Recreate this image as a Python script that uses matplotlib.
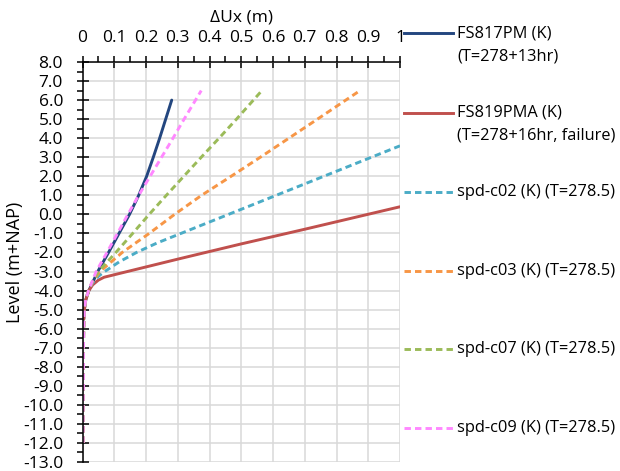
import matplotlib
matplotlib.use("Agg")
import matplotlib.pyplot as plt
from matplotlib.lines import Line2D
from matplotlib.ticker import MultipleLocator, FuncFormatter

plt.rcParams["font.family"] = ["Open Sans", "DejaVu Sans"]
plt.rcParams["axes.unicode_minus"] = False

# measured inclinometer profiles (x = horizontal displacement, level in m+NAP)
fs817_x = [0.004, 0.006, 0.010, 0.020, 0.034, 0.048, 0.082, 0.115, 0.148, 0.177, 0.202, 0.223, 0.243, 0.262, 0.281]
fs817_lvl = [-5.5, -5.0, -4.5, -4.0, -3.5, -3.0, -2.0, -1.0, 0.0, 1.0, 2.0, 3.0, 4.0, 5.0, 6.0]

fs819_x = [0.004, 0.006, 0.010, 0.020, 0.032, 0.050, 0.068, 0.300, 0.500, 0.700, 1.000]
fs819_lvl = [-5.5, -5.0, -4.5, -4.0, -3.7, -3.45, -3.3, -2.35, -1.55, -0.78, 0.4]

# calculated profiles
c02_x = [0.002, 0.002, 0.002, 0.003, 0.003, 0.003, 0.004, 0.006, 0.010, 0.019, 0.032, 0.050, 0.070, 0.115, 0.170, 0.235, 0.310, 0.460, 0.610, 0.760, 0.910, 1.000]
c02_lvl = [-12.0, -11.0, -10.0, -9.0, -8.0, -7.0, -6.0, -5.0, -4.5, -4.0, -3.6, -3.25, -3.0, -2.5, -2.0, -1.5, -1.0, 0.0, 1.0, 2.0, 3.0, 3.6]

c03_x = [0.002, 0.002, 0.002, 0.003, 0.003, 0.003, 0.004, 0.006, 0.010, 0.019, 0.033, 0.055, 0.125, 0.210, 0.290, 0.375, 0.468, 0.560, 0.650, 0.740, 0.874]
c03_lvl = [-12.0, -11.0, -10.0, -9.0, -8.0, -7.0, -6.0, -5.0, -4.5, -4.0, -3.5, -3.0, -2.0, -1.0, 0.0, 1.0, 2.0, 3.0, 4.0, 5.0, 6.5]

c07_x = [0.002, 0.002, 0.002, 0.003, 0.003, 0.003, 0.004, 0.006, 0.010, 0.019, 0.032, 0.050, 0.105, 0.158, 0.210, 0.264, 0.319, 0.374, 0.430, 0.485, 0.565]
c07_lvl = [-12.0, -11.0, -10.0, -9.0, -8.0, -7.0, -6.0, -5.0, -4.5, -4.0, -3.5, -3.0, -2.0, -1.0, 0.0, 1.0, 2.0, 3.0, 4.0, 5.0, 6.5]

c09_x = [0.002, 0.002, 0.002, 0.003, 0.003, 0.003, 0.004, 0.006, 0.010, 0.019, 0.031, 0.043, 0.077, 0.110, 0.143, 0.177, 0.213, 0.249, 0.285, 0.320, 0.374]
c09_lvl = [-12.0, -11.0, -10.0, -9.0, -8.0, -7.0, -6.0, -5.0, -4.5, -4.0, -3.5, -3.0, -2.0, -1.0, 0.0, 1.0, 2.0, 3.0, 4.0, 5.0, 6.5]

labels = [
    ["FS817PM (K)", "(T=278+13hr)"],
    ["FS819PMA (K)", "(T=278+16hr, failure)"],
    ["spd-c02 (K) (T=278.5)"],
    ["spd-c03 (K) (T=278.5)"],
    ["spd-c07 (K) (T=278.5)"],
    ["spd-c09 (K) (T=278.5)"],
]
colors = ["#23467f", "#c0504d", "#4bacc6", "#f79646", "#9bbb59", "#ff88ff"]
dashed = [False, False, True, True, True, True]
xs = [fs817_x, fs819_x, c02_x, c03_x, c07_x, c09_x]
ys = [fs817_lvl, fs819_lvl, c02_lvl, c03_lvl, c07_lvl, c09_lvl]

W, H = 620, 471
fig = plt.figure(figsize=(W / 100, H / 100), dpi=100)
ax = fig.add_axes([82.5 / W, 1 - 462 / H, 317.5 / W, 400 / H])

LW = 2.1
DASH = (2.2, 1.4)

for x, y, c, d in zip(xs, ys, colors, dashed):
    if d:
        ax.plot(x, y, color=c, lw=LW, dashes=DASH, solid_capstyle="butt")
    else:
        ax.plot(x, y, color=c, lw=LW, solid_capstyle="round")

ax.set_xlim(0, 1)
ax.set_ylim(-13, 8)

ax.xaxis.set_major_locator(MultipleLocator(0.1))
ax.xaxis.set_minor_locator(MultipleLocator(0.05))
ax.yaxis.set_major_locator(MultipleLocator(1))
ax.yaxis.set_minor_locator(MultipleLocator(0.5))
ax.xaxis.set_major_formatter(FuncFormatter(lambda v, p: f"{v:.1f}".rstrip("0").rstrip(".") if v else "0"))
ax.yaxis.set_major_formatter(FuncFormatter(lambda v, p: f"{v:.1f}"))

ax.xaxis.tick_top()
ax.tick_params(axis="x", which="major", direction="inout", length=9, width=1.1, pad=7, labelsize=12.5)
ax.tick_params(axis="x", which="minor", direction="out", length=4.5, width=1.1)
ax.tick_params(axis="y", which="major", direction="inout", length=9, width=1.1, pad=9.5, labelsize=12.5)
ax.tick_params(axis="y", which="minor", direction="out", length=4.5, width=1.1)

ax.grid(True, which="major", color="#d9d9d9", lw=1.1)
ax.set_axisbelow(True)
for s in ["bottom", "right"]:
    ax.spines[s].set_visible(False)
for s in ["top", "left"]:
    ax.spines[s].set_linewidth(1.1)

fig.text(241 / W, 1 - 17 / H, "ΔUx (m)", ha="center", va="center", fontsize=12.5)
fig.text(15 / W, 1 - 262 / H, "Level (m+NAP)", ha="center", va="center", rotation=90, fontsize=13)

# legend on the right, handle lined up with the first text line
legend_y = [33.3, 112.7, 191.7, 270.7, 349.3, 428.3]
for lab, c, d, ly in zip(labels, colors, dashed, legend_y):
    yf = 1 - ly / H
    line = Line2D([404 / W, 453 / W], [yf, yf], transform=fig.transFigure, color=c, lw=LW)
    if d:
        line.set_dashes(DASH)
    fig.add_artist(line)
    for i, txt in enumerate(lab):
        fig.text(457 / W, 1 - (ly + 23 * i) / H, txt, ha="left", va="center", fontsize=11.8)

fig.savefig("out.png", dpi=100)
